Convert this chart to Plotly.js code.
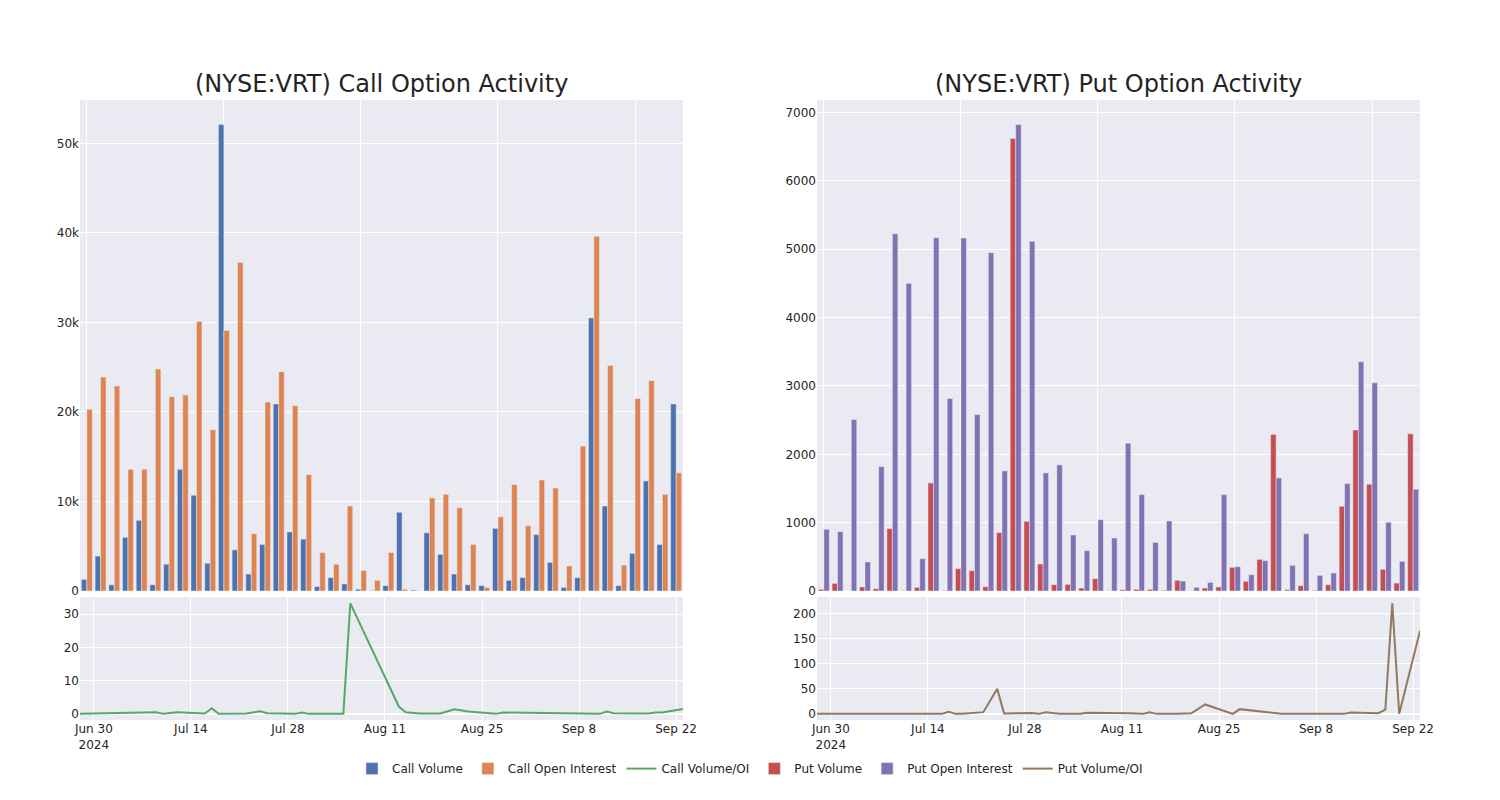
<!DOCTYPE html>
<html>
<head>
<meta charset="utf-8">
<script src="https://cdn.plot.ly/plotly-3.0.1.min.js"></script>
<style>html,body{margin:0;padding:0;background:#fff;}#chart{width:1500px;height:800px;}</style>
</head>
<body>
<div id="chart"></div>
<script>
// Bar categories (trading days shown in the bar panels)
const barDates = [
  "2024-06-28","2024-07-01","2024-07-03","2024-07-08","2024-07-09","2024-07-10","2024-07-11","2024-07-12",
  "2024-07-15","2024-07-16","2024-07-17","2024-07-18","2024-07-19","2024-07-22","2024-07-24","2024-07-25",
  "2024-07-26","2024-07-29","2024-07-30","2024-07-31","2024-08-01","2024-08-02","2024-08-05","2024-08-06",
  "2024-08-13","2024-08-14","2024-08-15","2024-08-16","2024-08-19","2024-08-21","2024-08-23","2024-08-27",
  "2024-08-28","2024-09-03","2024-09-05","2024-09-09","2024-09-11","2024-09-12","2024-09-13","2024-09-16",
  "2024-09-18","2024-09-19","2024-09-20","2024-09-23"
];
const callVolume = [
  1300,3900,700,6000,7900,700,3000,13600,10700,3100,52100,4600,1900,5200,20900,6600,
  5800,500,1500,800,200,50,600,8800,100,6500,4100,1900,700,600,7000,1200,
  1500,6300,3200,400,1500,30500,9500,600,4200,12300,5200,20900
];
const callOpenInterest = [
  20300,23900,22900,13600,13600,24800,21700,21900,30100,18000,29100,36700,6400,21100,24500,20700,
  13000,4300,3000,9500,2300,1200,4300,200,50,10400,10800,9300,5200,400,8300,11900,
  7300,12400,11500,2800,16200,39600,25200,2900,21500,23500,10800,13200
];
const putVolume = [
  25,112,0,59,34,913,5,54,1581,5,327,298,63,854,6618,1020,
  395,93,98,44,181,5,20,25,25,10,156,5,44,59,347,142,
  464,2289,20,78,10,93,1240,2357,1562,317,117,2299
];
const putOpenInterest = [
  903,869,2508,425,1820,5227,4500,473,5168,2816,5163,2582,4949,1757,6823,5115,
  1728,1845,820,590,1044,776,2162,1410,712,1025,146,54,127,1410,356,239,
  444,1654,376,839,229,264,1571,3353,3045,1005,434,1489
];

// Volume / OI line panels
const callRatioDates = [
  "2024-06-28","2024-07-01","2024-07-03","2024-07-05","2024-07-08","2024-07-09","2024-07-10","2024-07-12",
  "2024-07-16","2024-07-17","2024-07-18","2024-07-22","2024-07-24","2024-07-25","2024-07-29","2024-07-30",
  "2024-07-31","2024-08-05","2024-08-06","2024-08-13","2024-08-14","2024-08-16","2024-08-19","2024-08-21",
  "2024-08-23","2024-08-27","2024-08-28","2024-09-03","2024-09-06","2024-09-11","2024-09-12","2024-09-13",
  "2024-09-18","2024-09-19","2024-09-20","2024-09-23"
];
const callRatio = [
  0.0,0.1,0.2,0.3,0.4,0.5,0.0,0.5,
  0.1,1.7,0.0,0.1,0.8,0.2,0.0,0.4,
  0.0,0.0,33.2,2.2,0.5,0.1,0.1,1.4,
  0.7,0.0,0.4,0.3,0.2,0.0,0.7,0.2,
  0.1,0.4,0.4,1.5
];
const putRatioDates = [
  "2024-06-28","2024-07-15","2024-07-16","2024-07-17","2024-07-18","2024-07-19","2024-07-22","2024-07-24",
  "2024-07-25","2024-07-29","2024-07-30","2024-07-31","2024-08-01","2024-08-02","2024-08-05","2024-08-06",
  "2024-08-12","2024-08-13","2024-08-14","2024-08-15","2024-08-16","2024-08-19","2024-08-21","2024-08-23",
  "2024-08-27","2024-08-28","2024-09-03","2024-09-12","2024-09-13","2024-09-17","2024-09-18","2024-09-19",
  "2024-09-20","2024-09-23"
];
const putRatio = [
  0.0,1.3,0.0,4.0,0.0,0.0,3.4,50.0,
  0.7,1.5,0.0,3.0,1.0,0.0,0.0,2.0,
  1.0,0.5,0.0,3.4,0.0,0.0,1.0,18.8,
  0.0,9.4,0.0,0.0,2.7,1.3,8.7,221.0,
  0.0,166.0
];

const C = {blue:"#4C72B0", orange:"#DD8452", green:"#55A868", red:"#C44E52", purple:"#8172B3", brown:"#937860"};
const barLine = {color:"#EAEAF2", width:0.5};

const traces = [
  {type:"bar", name:"Call Volume", x:barDates, y:callVolume, marker:{color:C.blue, line:barLine}, xaxis:"x", yaxis:"y"},
  {type:"bar", name:"Call Open Interest", x:barDates, y:callOpenInterest, marker:{color:C.orange, line:barLine}, xaxis:"x", yaxis:"y"},
  {type:"scatter", mode:"lines", name:"Call Volume/OI", x:callRatioDates, y:callRatio, line:{color:C.green, width:2}, xaxis:"x3", yaxis:"y3"},
  {type:"bar", name:"Put Volume", x:barDates, y:putVolume, marker:{color:C.red, line:barLine}, xaxis:"x2", yaxis:"y2"},
  {type:"bar", name:"Put Open Interest", x:barDates, y:putOpenInterest, marker:{color:C.purple, line:barLine}, xaxis:"x2", yaxis:"y2"},
  {type:"scatter", mode:"lines", name:"Put Volume/OI", x:putRatioDates, y:putRatio, line:{color:C.brown, width:2}, xaxis:"x4", yaxis:"y4"}
];

const gridAxis = {gridcolor:"white", linecolor:"white", zerolinecolor:"white", zerolinewidth:2, ticks:"", showline:false};
const catAxis = Object.assign({}, gridAxis, {type:"category", showticklabels:false, tickmode:"linear", tick0:0, dtick:10});
const dateAxis = Object.assign({}, gridAxis, {type:"date", autorange:true});

const layout = {
  width:1500, height:800,
  font:{family:"DejaVu Sans, sans-serif", size:12, color:"rgb(36,36,36)"},
  paper_bgcolor:"white", plot_bgcolor:"rgb(234,234,242)",
  margin:{l:80, r:80, t:100, b:80},
  barmode:"group",
  showlegend:true,
  legend:{orientation:"h", x:0.5, xanchor:"center", y:-0.055, yanchor:"top", font:{size:12}},
  xaxis: Object.assign({}, catAxis, {domain:[0,0.45], anchor:"y"}),
  yaxis: Object.assign({}, gridAxis, {domain:[0.208,1], anchor:"x"}),
  xaxis2: Object.assign({}, catAxis, {domain:[0.55,1], anchor:"y2"}),
  yaxis2: Object.assign({}, gridAxis, {domain:[0.208,1], anchor:"x2"}),
  xaxis3: Object.assign({}, dateAxis, {domain:[0,0.45], anchor:"y3"}),
  yaxis3: Object.assign({}, gridAxis, {domain:[0,0.198], anchor:"x3"}),
  xaxis4: Object.assign({}, dateAxis, {domain:[0.55,1], anchor:"y4"}),
  yaxis4: Object.assign({}, gridAxis, {domain:[0,0.198], anchor:"x4"}),
  annotations:[
    {text:"(NYSE:VRT) Call Option Activity", xref:"paper", yref:"paper", x:0.225, y:1, xanchor:"center", yanchor:"bottom", showarrow:false, font:{size:24}},
    {text:"(NYSE:VRT) Put Option Activity", xref:"paper", yref:"paper", x:0.775, y:1, xanchor:"center", yanchor:"bottom", showarrow:false, font:{size:24}}
  ]
};

Plotly.newPlot("chart", traces, layout, {displayModeBar:false});
</script>
</body>
</html>
